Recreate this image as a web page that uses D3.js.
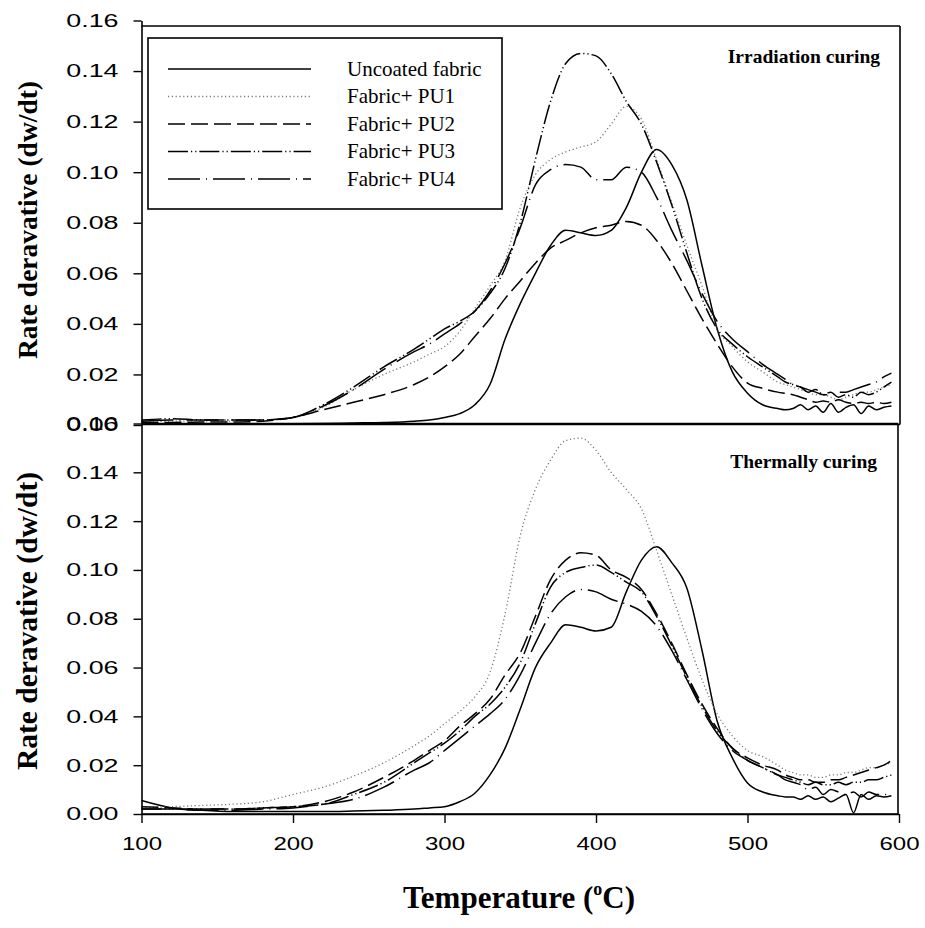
<!DOCTYPE html>
<html>
<head>
<meta charset="utf-8">
<script src="https://cdn.jsdelivr.net/npm/d3@7"></script>
<style>
  html, body { margin: 0; padding: 0; background: #fff; }
  svg { display: block; }
</style>
</head>
<body>
<svg id="chart" width="925" height="928"></svg>
<script>
// ---------------- DATA ----------------
const temps = [100,120,140,160,180,200,220,240,260,280,
  290,300,310,320,330,340,350,360,370,380,390,400,410,420,430,440,450,460,470,480,490,500,510,520,
  525,530,535,540,545,550,555,560,565,570,575,580,585,590,595];

const seriesNames = ["Uncoated fabric", "Fabric+ PU1", "Fabric+ PU2", "Fabric+ PU3", "Fabric+ PU4"];
const xTicks = [100, 200, 300, 400, 500, 600];
const yTicks = [0, 0.02, 0.04, 0.06, 0.08, 0.10, 0.12, 0.14, 0.16];
const panelTitles = ["Irradiation curing", "Thermally curing"];

// Irradiation curing (top panel)
const topUncoated = [0.0005,0.0005,0.0005,0.0005,0.0005,0.0005,0.0006,0.0008,0.001,0.0015,
  0.002,0.003,0.0045,0.008,0.016,0.034,0.048,0.060,0.071,0.077,0.076,0.075,0.077,0.086,0.100,0.109,0.103,0.089,0.063,0.038,0.021,0.0126,0.008,0.0065,
  0.006,0.0065,0.008,0.006,0.0075,0.005,0.0085,0.005,0.007,0.008,0.0045,0.0075,0.006,0.007,0.0075];
const topPU1 = [0.001,0.0015,0.0015,0.0015,0.002,0.003,0.007,0.014,0.020,0.025,
  0.028,0.031,0.037,0.046,0.055,0.065,0.086,0.099,0.105,0.108,0.110,0.112,0.119,0.126,0.121,0.105,0.088,0.071,0.055,0.038,0.031,0.025,0.021,0.017,
  0.016,0.015,0.014,0.013,0.012,0.012,0.011,0.010,0.011,0.012,0.013,0.013,0.014,0.015,0.016];
const topPU2 = [0.001,0.001,0.0012,0.0012,0.0015,0.003,0.006,0.009,0.012,0.016,
  0.019,0.023,0.028,0.035,0.042,0.050,0.057,0.064,0.070,0.073,0.076,0.078,0.079,0.0805,0.079,0.073,0.064,0.053,0.042,0.032,0.023,0.0166,0.0145,0.013,
  0.0125,0.012,0.011,0.010,0.009,0.0095,0.009,0.010,0.009,0.0085,0.009,0.0085,0.009,0.0085,0.009];
const topPU3 = [0.002,0.0025,0.002,0.002,0.002,0.003,0.008,0.015,0.023,0.030,
  0.034,0.038,0.041,0.045,0.052,0.062,0.080,0.105,0.128,0.143,0.147,0.146,0.139,0.128,0.119,0.104,0.087,0.068,0.050,0.038,0.032,0.027,0.023,0.019,
  0.017,0.016,0.015,0.013,0.014,0.012,0.013,0.011,0.012,0.011,0.013,0.012,0.013,0.015,0.017];
const topPU4 = [0.0015,0.002,0.002,0.002,0.002,0.003,0.0075,0.014,0.022,0.029,
  0.032,0.036,0.040,0.045,0.053,0.064,0.078,0.095,0.101,0.103,0.102,0.097,0.097,0.102,0.100,0.090,0.077,0.065,0.052,0.041,0.034,0.029,0.024,0.020,
  0.018,0.016,0.015,0.014,0.013,0.012,0.012,0.013,0.013,0.014,0.015,0.016,0.017,0.019,0.0205];

// Thermally curing (bottom panel)
const botUncoated = [0.0055,0.0025,0.0015,0.001,0.001,0.001,0.001,0.0012,0.0015,0.002,
  0.0025,0.003,0.005,0.0085,0.016,0.027,0.043,0.060,0.070,0.0775,0.0765,0.075,0.0765,0.091,0.104,0.1095,0.103,0.0925,0.067,0.038,0.023,0.0127,0.009,0.0075,
  0.007,0.007,0.006,0.0075,0.006,0.007,0.005,0.0065,0.008,0.0005,0.008,0.006,0.0075,0.007,0.0075];
const botPU1 = [0.0025,0.003,0.0035,0.004,0.005,0.008,0.011,0.0155,0.021,0.028,
  0.032,0.037,0.042,0.048,0.058,0.082,0.114,0.133,0.145,0.153,0.154,0.149,0.140,0.133,0.125,0.108,0.090,0.072,0.055,0.041,0.032,0.026,0.0235,0.020,
  0.018,0.017,0.016,0.016,0.015,0.015,0.016,0.016,0.017,0.017,0.018,0.019,0.019,0.020,0.021];
const botPU2 = [0.003,0.0025,0.002,0.002,0.0025,0.003,0.005,0.009,0.015,0.022,
  0.026,0.030,0.036,0.041,0.047,0.057,0.066,0.081,0.096,0.104,0.107,0.106,0.100,0.097,0.092,0.082,0.070,0.057,0.045,0.035,0.027,0.023,0.020,0.018,
  0.016,0.015,0.014,0.014,0.013,0.013,0.014,0.014,0.015,0.016,0.017,0.018,0.019,0.020,0.022];
const botPU3 = [0.002,0.002,0.002,0.002,0.0025,0.003,0.004,0.008,0.013,0.021,
  0.025,0.029,0.034,0.040,0.045,0.052,0.062,0.078,0.093,0.099,0.101,0.102,0.099,0.095,0.091,0.081,0.069,0.056,0.044,0.034,0.027,0.022,0.019,0.016,
  0.015,0.014,0.013,0.012,0.013,0.012,0.012,0.013,0.012,0.013,0.013,0.014,0.014,0.015,0.016];
const botPU4 = [0.002,0.002,0.0015,0.0015,0.002,0.0025,0.004,0.006,0.011,0.018,
  0.021,0.026,0.031,0.036,0.041,0.047,0.057,0.070,0.082,0.089,0.092,0.091,0.088,0.086,0.083,0.077,0.067,0.055,0.043,0.033,0.026,0.022,0.019,0.016,
  0.014,0.013,0.012,0.010,0.011,0.008,0.010,0.009,0.008,0.009,0.007,0.009,0.008,0.008,0.0075];

// ---------------- STYLES ----------------
const styles = [
  { stroke: "#000", width: 1.5, dash: null },
  { stroke: "#7a7a7a", width: 1.3, dash: "1.2,2.6" },
  { stroke: "#000", width: 1.5, dash: "17,6" },
  { stroke: "#000", width: 1.5, dash: "20,3,1.2,3,1.2,3" },
  { stroke: "#000", width: 1.5, dash: "32,6,1,6" }
];

const svg = d3.select("#chart");
const x = d3.scaleLinear().domain([100, 600]).range([141.5, 899]);
const yTop = d3.scaleLinear().domain([0, 0.16]).range([425, 20.5]);
const yBot = d3.scaleLinear().domain([0, 0.16]).range([814, 423.5]);

const sans = "'Liberation Sans', Arial, sans-serif";
const serif = "'Liberation Serif', 'Times New Roman', serif";

function drawPanel(yScale, seriesList, frame) {
  const g = svg.append("g");
  g.append("line").attr("x1", x.range()[0]).attr("x2", frame.right).attr("y1", frame.top).attr("y2", frame.top)
    .attr("stroke", "#000").attr("stroke-width", 1.6);
  g.append("line").attr("x1", frame.right).attr("x2", frame.right).attr("y1", frame.top).attr("y2", frame.bottom)
    .attr("stroke", "#000").attr("stroke-width", 1.6);
  g.append("line").attr("x1", x.range()[0]).attr("x2", frame.right).attr("y1", frame.bottom).attr("y2", frame.bottom)
    .attr("stroke", "#000").attr("stroke-width", 1.6);

  const line = d3.line()
    .x((d, i) => x(temps[i]))
    .y(d => yScale(d))
    .curve(d3.curveMonotoneX);

  seriesList.forEach((vals, k) => {
    const s = styles[k];
    g.append("path")
      .attr("d", line(vals))
      .attr("fill", "none")
      .attr("stroke", s.stroke)
      .attr("stroke-width", s.width)
      .attr("stroke-dasharray", s.dash)
      .attr("stroke-linejoin", "round");
  });

  const ax = g.append("g").attr("transform", `translate(${x.range()[0]},0)`)
    .call(d3.axisLeft(yScale).tickValues(yTicks).tickFormat(d3.format(".2f")).tickSize(8).tickSizeOuter(0));
  ax.select(".domain").attr("stroke-width", 1.6);
  ax.selectAll(".tick line").attr("stroke-width", 1.4);
  ax.selectAll(".tick text")
    .attr("x", null)
    .attr("font-family", sans).attr("font-size", 18.5).attr("fill", "#000")
    .attr("transform", "translate(-23,0) scale(1.45,1)");
  return g;
}

drawPanel(yTop, [topUncoated, topPU1, topPU2, topPU3, topPU4], { top: 26, bottom: 424.5, right: 900 });
drawPanel(yBot, [botUncoated, botPU1, botPU2, botPU3, botPU4], { top: 423.5, bottom: 814, right: 898 });

// x axis at bottom
const xa = svg.append("g").attr("transform", "translate(0,814)")
  .call(d3.axisBottom(x).tickValues(xTicks).tickFormat(d3.format("d")).tickSize(9).tickSizeOuter(0));
xa.select(".domain").attr("stroke-width", 1.6);
xa.selectAll(".tick line").attr("stroke-width", 1.4);
xa.selectAll(".tick text")
  .attr("y", null).attr("dy", null)
  .attr("font-family", sans).attr("font-size", 18.5).attr("fill", "#000")
  .attr("transform", "translate(0,36) scale(1.3,1)");

// axis titles
svg.append("text")
  .attr("transform", "translate(37,220) rotate(-90)")
  .attr("text-anchor", "middle")
  .attr("font-family", serif).attr("font-weight", "bold").attr("font-size", 27.5)
  .text("Rate deravative (dw/dt)");
svg.append("text")
  .attr("transform", "translate(37,621) rotate(-90)")
  .attr("text-anchor", "middle")
  .attr("font-family", serif).attr("font-weight", "bold").attr("font-size", 29.5)
  .text("Rate deravative (dw/dt)");

const xt = svg.append("text")
  .attr("x", 519).attr("y", 908)
  .attr("text-anchor", "middle")
  .attr("font-family", serif).attr("font-weight", "bold").attr("font-size", 31);
xt.append("tspan").text("Temperature (");
xt.append("tspan").attr("font-size", 18).attr("dy", -13).text("o");
xt.append("tspan").attr("dy", 13).text("C)");

// panel titles
svg.append("text").attr("x", 880).attr("y", 63).attr("text-anchor", "end")
  .attr("font-family", serif).attr("font-weight", "bold").attr("font-size", 19.5)
  .text(panelTitles[0]);
svg.append("text").attr("x", 877).attr("y", 468).attr("text-anchor", "end")
  .attr("font-family", serif).attr("font-weight", "bold").attr("font-size", 19.5)
  .text(panelTitles[1]);

// legend
const lg = svg.append("g");
lg.append("rect").attr("x", 148).attr("y", 38).attr("width", 354).attr("height", 171)
  .attr("fill", "#fff").attr("stroke", "#000").attr("stroke-width", 1.6);
const rowY = d3.scalePoint().domain(seriesNames).range([69, 179]);
seriesNames.forEach((name, k) => {
  const s = styles[k];
  const yy = rowY(name);
  lg.append("line").attr("x1", 168).attr("x2", 311).attr("y1", yy).attr("y2", yy)
    .attr("stroke", s.stroke).attr("stroke-width", s.width).attr("stroke-dasharray", s.dash);
  lg.append("text").attr("x", 347).attr("y", yy + 6.5)
    .attr("font-family", serif).attr("font-size", 21).text(name);
});
</script>
</body>
</html>
